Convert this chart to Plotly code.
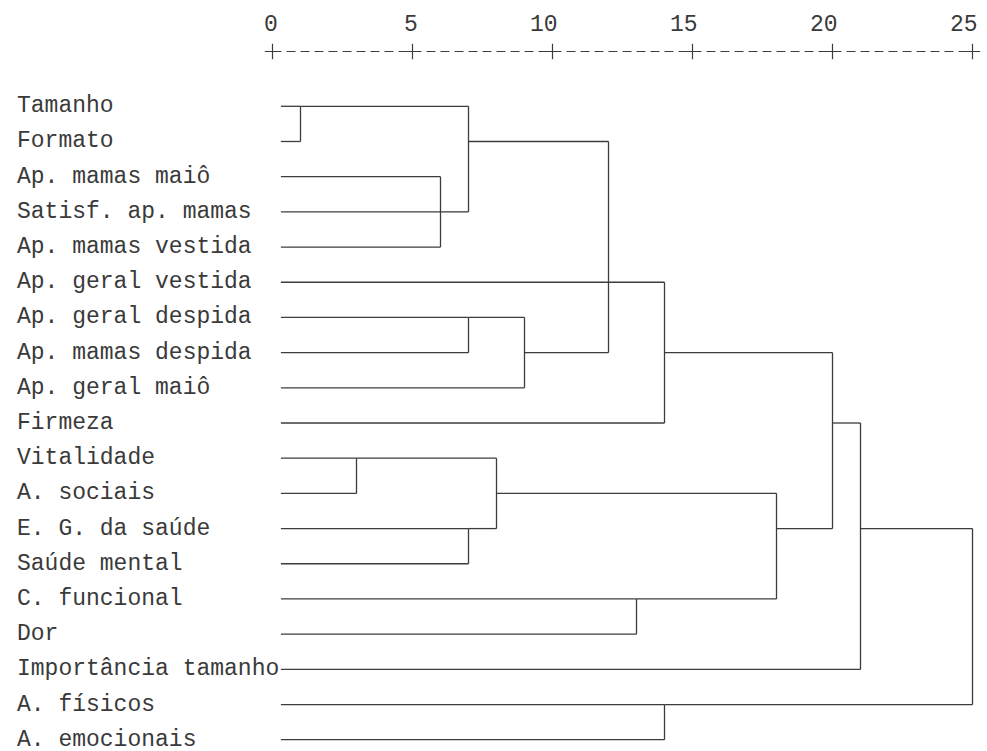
import plotly.graph_objects as go

# ---------------- data ----------------
labels = [
    "Tamanho", "Formato", "Ap. mamas maiô", "Satisf. ap. mamas",
    "Ap. mamas vestida", "Ap. geral vestida", "Ap. geral despida",
    "Ap. mamas despida", "Ap. geral maiô", "Firmeza", "Vitalidade",
    "A. sociais", "E. G. da saúde", "Saúde mental", "C. funcional", "Dor",
    "Importância tamanho", "A. físicos", "A. emocionais",
]
# merges: children ("L<i>" = leaf row i, "M<j>" = merge j), rescaled distance
merge_children = [
    ["L0", "L1"],            # M0
    ["L2", "L3", "L4"],      # M1
    ["M0", "M1"],            # M2
    ["L6", "L7"],            # M3
    ["M3", "L8"],            # M4
    ["M2", "L5", "M4"],      # M5
    ["M5", "L9"],            # M6
    ["L10", "L11"],          # M7
    ["L12", "L13"],          # M8
    ["M7", "M8"],            # M9
    ["L14", "L15"],          # M10
    ["M9", "M10"],           # M11
    ["M6", "M11"],           # M12
    ["M12", "L16"],          # M13
    ["L17", "L18"],          # M14
    ["M13", "M14"],          # M15
]
merge_dist = [1, 6, 7, 7, 9, 12, 14, 3, 7, 8, 13, 18, 20, 21, 14, 25]
axis_ticks = [0, 5, 10, 15, 20, 25]

# ---------------- layout constants ----------------
LINE = "#3c3c3c"
TXT = "#3a3a3a"
FONT = "Liberation Mono, Courier New, monospace"
PX0, UNIT = 272.5, 28.0          # pixel of distance 0, pixels per unit
ROW0, ROWH = 106.3, 35.19        # pixel of first row, row spacing
W, H = 987, 751
LEAF_X = 0.3

xmin = -PX0 / UNIT
xmax = xmin + W / UNIT
ytop = -ROW0 / ROWH
ybot = ytop + H / ROWH

def px_row(py):
    return (py - ROW0) / ROWH

# ---------------- compute dendrogram segments ----------------
xs, ys = [], []
out_row, out_x = {}, {}
for i in range(len(labels)):
    out_row[f"L{i}"] = i
    out_x[f"L{i}"] = LEAF_X

for j, (ch, d) in enumerate(zip(merge_children, merge_dist)):
    rows = [out_row[c] for c in ch]
    for c in ch:
        xs += [out_x[c], d, None]
        ys += [out_row[c], out_row[c], None]
    xs += [d, d, None]
    ys += [min(rows), max(rows), None]
    if len(rows) == 3:
        r = sorted(rows)[1]
    else:
        r = (min(rows) + max(rows)) // 2
    out_row[f"M{j}"] = r
    out_x[f"M{j}"] = d

fig = go.Figure()
fig.add_trace(go.Scatter(x=xs, y=ys, mode="lines",
                         line=dict(color=LINE, width=1.3),
                         hoverinfo="skip", showlegend=False))

# top axis: dashed rule with "+" ticks
ax_row = px_row(51.5)
fig.add_trace(go.Scatter(x=[axis_ticks[0], axis_ticks[-1]], y=[ax_row, ax_row],
                         mode="lines",
                         line=dict(color=LINE, width=1.2, dash="9px,5px"),
                         hoverinfo="skip", showlegend=False))
fig.add_trace(go.Scatter(x=axis_ticks, y=[ax_row] * len(axis_ticks),
                         mode="markers",
                         marker=dict(symbol="cross-thin", size=11,
                                     line=dict(color=LINE, width=1.2)),
                         hoverinfo="skip", showlegend=False))

annotations = []
for t in axis_ticks:
    annotations.append(dict(x=t, y=px_row(25), xref="x", yref="y",
                            text=str(t), showarrow=False, xanchor="right",
                            yanchor="middle", xshift=7,
                            font=dict(family=FONT, size=23, color=TXT)))
for i, lab in enumerate(labels):
    annotations.append(dict(x=15 / W, y=i, xref="paper", yref="y",
                            text=lab, showarrow=False, xanchor="left",
                            yanchor="middle",
                            font=dict(family=FONT, size=23, color=TXT)))

fig.update_layout(
    width=W, height=H,
    margin=dict(l=0, r=0, t=0, b=0),
    paper_bgcolor="white", plot_bgcolor="white",
    xaxis=dict(range=[xmin, xmax], visible=False, fixedrange=True),
    yaxis=dict(range=[ybot, ytop], visible=False, fixedrange=True),
    annotations=annotations,
    showlegend=False,
)

fig.write_html("out.html",
               config={"displayModeBar": False, "staticPlot": True},
               post_script="document.body.style.margin='0px';"
                           "document.body.style.overflow='hidden';")
